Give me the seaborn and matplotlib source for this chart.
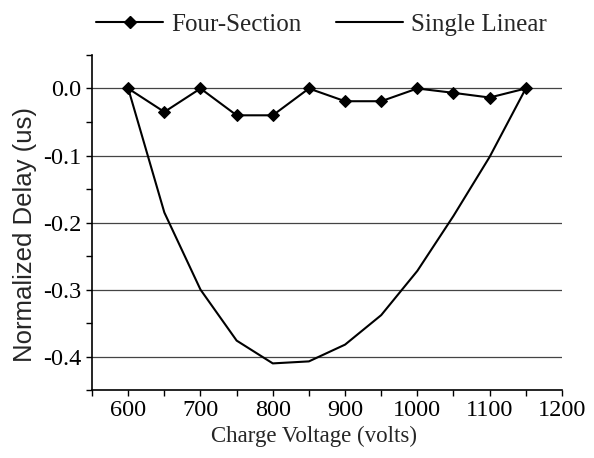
import numpy as np
import pandas as pd
import seaborn as sns
import matplotlib.pyplot as plt
from matplotlib.ticker import MultipleLocator

voltage = [600, 650, 700, 750, 800, 850, 900, 950, 1000, 1050, 1100, 1150]
four_section = [0.0, -0.035, 0.0, -0.040, -0.040, 0.0, -0.019, -0.019, 0.0, -0.0065, -0.0135, 0.0]
single_linear = [0.0, -0.185, -0.300, -0.376, -0.410, -0.407, -0.382, -0.338, -0.272, -0.190, -0.102, 0.0]
y_ticks = [0.0, -0.1, -0.2, -0.3, -0.4]
x_ticks = [600, 700, 800, 900, 1000, 1100, 1200]

sns.set_style('ticks')
plt.rcParams['font.family'] = ['Liberation Serif', 'DejaVu Serif']

fig = plt.figure(figsize=(5.94, 4.58), dpi=100)
ax = fig.add_axes([0.155, 0.148, 0.791, 0.732])

for y in y_ticks:
    ax.axhline(y, color='#444444', lw=0.9, zorder=0)

sns.lineplot(x=voltage, y=single_linear, color='black', lw=1.5, ax=ax)
sns.lineplot(x=voltage, y=four_section, color='black', lw=1.5, marker='D',
             markersize=6, markeredgecolor='black', ax=ax)

ax.set_xlim(550, 1200)
ax.set_ylim(-0.45, 0.05)
ax.set_xticks(x_ticks)
ax.set_yticks(y_ticks)
ax.set_yticklabels([f'{v:.1f}' for v in y_ticks])
ax.xaxis.set_minor_locator(MultipleLocator(50))
ax.yaxis.set_minor_locator(MultipleLocator(0.05))
ax.tick_params(which='both', direction='out', length=4, width=1, colors='black', labelsize=17.5)
ax.tick_params(axis='x', pad=3)
for s in ['top', 'right']:
    ax.spines[s].set_visible(False)
for s in ['left', 'bottom']:
    ax.spines[s].set_color('black')
    ax.spines[s].set_linewidth(1.2)

ax.set_xlabel('Charge Voltage (volts)', fontsize=16.5, labelpad=2)
ax.xaxis.set_label_coords(0.473, -0.105)
ax.set_ylabel('Normalized Delay (us)', fontsize=18.5, family=['Liberation Sans', 'DejaVu Sans'])
ax.yaxis.set_label_coords(-0.118, 0.465)

h1, = ax.plot([], [], color='black', marker='D', markersize=6, lw=1.5)
h2, = ax.plot([], [], color='black', lw=1.5)
fig.legend([h1, h2], ['Four-Section', 'Single Linear'], loc='upper center',
           bbox_to_anchor=(0.541, 1.02), ncol=2, frameon=False, fontsize=18,
           handlelength=2.7, columnspacing=1.36, handletextpad=0.32)

fig.savefig('out.png', dpi=100)
